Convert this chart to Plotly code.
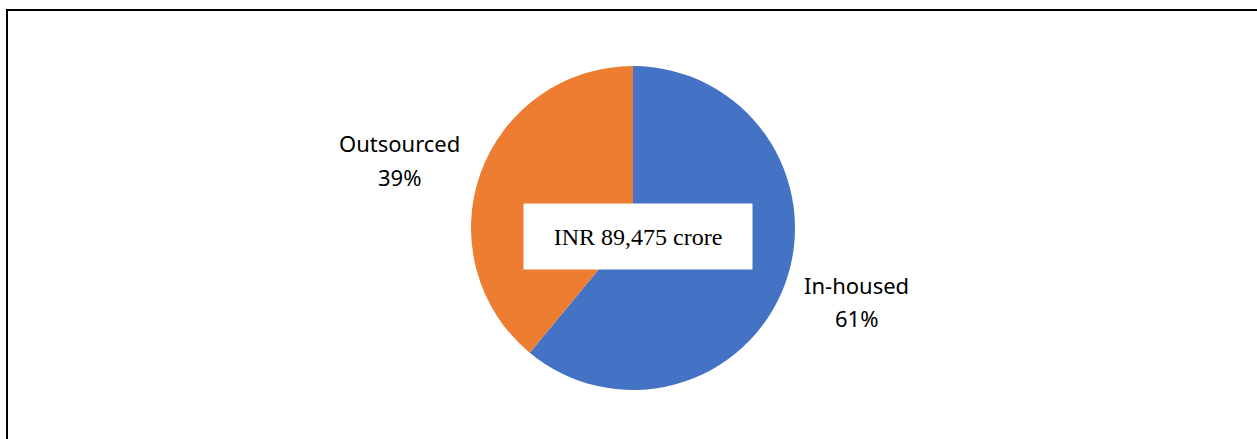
import plotly.graph_objects as go

W, H = 1257, 439

labels = ["In-housed", "Outsourced"]
values = [61, 39]
colors = ["#4472C4", "#ED7D31"]
center_text = "INR 89,475 crore"


def px(x):
    return x / W


def py(y):
    return 1 - y / H


fig = go.Figure(go.Pie(
    labels=labels, values=values,
    marker=dict(colors=colors, line=dict(width=0)),
    sort=False, direction="clockwise", rotation=0,
    textinfo="none", hoverinfo="label+percent",
    domain=dict(x=[px(633 - 162), px(633 + 162)], y=[py(390), py(66)]),
))

# slice labels (name on one line, percent below)
label_pos = {"Outsourced": (399, 143, 177), "In-housed": (856, 285, 318)}
for name, val in zip(labels, values):
    x, y1, y2 = label_pos[name]
    for txt, y in [(name, y1), (f"{val}%", y2)]:
        fig.add_annotation(
            x=px(x), y=py(y), xref="paper", yref="paper",
            text=txt, showarrow=False, xanchor="center", yanchor="middle",
            font=dict(family="Noto Sans, Open Sans, sans-serif", size=22, color="#000000"),
        )

# centre total box
fig.add_annotation(
    x=px(638), y=py(236.5), xref="paper", yref="paper",
    text=center_text, showarrow=False, xanchor="center", yanchor="middle",
    width=228, height=65, borderpad=0, bgcolor="white",
    font=dict(family="Liberation Serif, Times New Roman, serif", size=24, color="#000000"),
)

# outer frame (right and bottom edges fall outside the picture)
fig.add_shape(type="rect", xref="paper", yref="paper",
              x0=px(7), x1=1.05, y0=-0.05, y1=py(10),
              line=dict(color="black", width=2))

fig.update_layout(
    width=W, height=H,
    showlegend=False,
    margin=dict(t=0, b=0, l=0, r=0),
    paper_bgcolor="white", plot_bgcolor="white",
)

# drop the default 8px page margin so the figure fills the window
fig.write_html("out.html", config={"displayModeBar": False},
               post_script="document.body.style.margin = '0';")
